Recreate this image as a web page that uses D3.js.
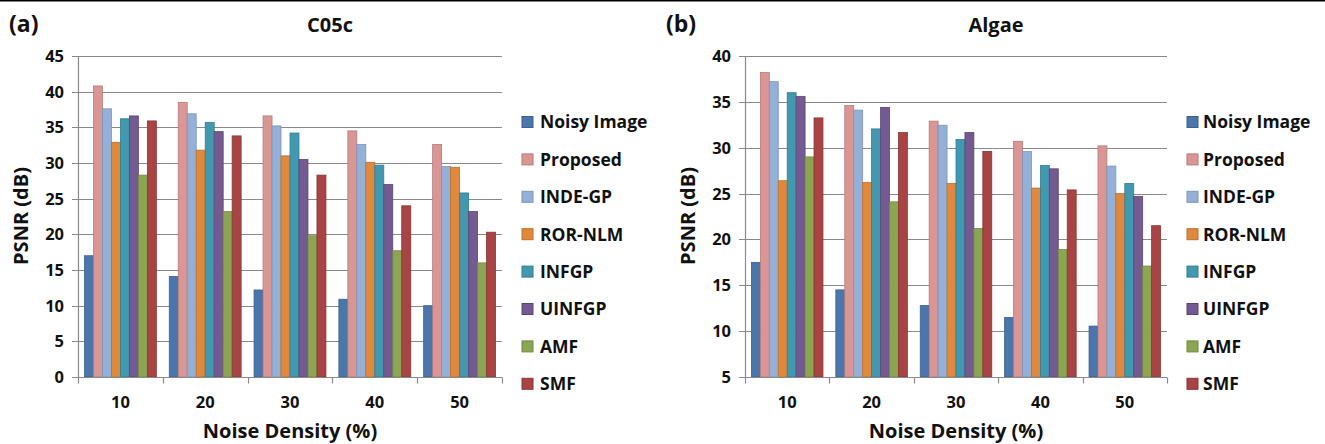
<!DOCTYPE html>
<html>
<head>
<meta charset="utf-8">
<script src="https://cdn.jsdelivr.net/npm/d3@7"></script>
<style>
  body { margin: 0; background: #fff; }
  text { font-family: "Open Sans", "Noto Sans", sans-serif; font-weight: 700; fill: #111; }
</style>
</head>
<body>
<div id="chart"></div>
<script>
let w = 1325,
    h = 444;

// noise density categories and method names
let densities = ["10", "20", "30", "40", "50"];
let methods = ["Noisy Image", "Proposed", "INDE-GP", "ROR-NLM", "INFGP", "UINFGP", "AMF", "SMF"];
let colors = ["#4A76AC", "#D99694", "#95B0D6", "#E0883C", "#4298AF", "#735A91", "#8CA552", "#A84444"];
let borders = ["#3A6190", "#B87A78", "#7B96BB", "#C06F2A", "#317E93", "#5C4676", "#728A3E", "#8C3535"];

// PSNR values, one row per method, columns follow densities
let c05c = [
  [17.0, 14.1, 12.2, 10.9, 10.0],
  [40.8, 38.5, 36.6, 34.5, 32.6],
  [37.6, 36.9, 35.2, 32.6, 29.5],
  [32.9, 31.8, 31.0, 30.1, 29.4],
  [36.2, 35.7, 34.2, 29.7, 25.8],
  [36.6, 34.4, 30.5, 27.0, 23.2],
  [28.3, 23.2, 19.8, 17.7, 16.0],
  [35.9, 33.8, 28.3, 24.0, 20.3]
];
let algae = [
  [17.5, 14.5, 12.8, 11.5, 10.55],
  [38.2, 34.6, 32.9, 30.7, 30.2],
  [37.2, 34.1, 32.45, 29.6, 28.0],
  [26.4, 26.2, 26.1, 25.6, 25.0],
  [36.0, 32.05, 30.9, 28.05, 26.1],
  [35.6, 34.4, 31.65, 27.7, 24.7],
  [29.0, 24.1, 21.2, 18.9, 17.1],
  [33.25, 31.65, 29.6, 25.4, 21.5]
];

let c05cTicks = [0, 5, 10, 15, 20, 25, 30, 35, 40, 45];
let algaeTicks = [5, 10, 15, 20, 25, 30, 35, 40];

let svg = d3.select("#chart")
            .append("svg")
            .attr("width", w)
            .attr("height", h);

// thin rule across the top of the figure
svg.append("line")
   .attr("x1", 0).attr("x2", w)
   .attr("y1", 0.75).attr("y2", 0.75)
   .attr("stroke", "#000")
   .attr("stroke-width", 1.5);

function drawPanel(opt) {
  let g = svg.append("g");

  let x0 = d3.scaleBand()
             .domain(densities)
             .range([opt.left, opt.right]);

  let x1 = d3.scaleBand()
             .domain(methods)
             .range([0, x0.bandwidth()])
             .paddingOuter(0.72);

  let y = d3.scaleLinear()
            .domain(opt.domain)
            .range([377, 56]);

  // gridlines
  g.selectAll(".grid")
   .data(opt.ticks)
   .enter()
   .append("line")
   .attr("x1", opt.left - 6)
   .attr("x2", opt.right)
   .attr("y1", d => Math.round(y(d)) + 0.5)
   .attr("y2", d => Math.round(y(d)) + 0.5)
   .attr("stroke", "#8a8a8a")
   .attr("stroke-width", 1.2);

  // y axis line
  g.append("line")
   .attr("x1", opt.left + 0.5).attr("x2", opt.left + 0.5)
   .attr("y1", y(opt.domain[1])).attr("y2", y(opt.domain[0]))
   .attr("stroke", "#8a8a8a")
   .attr("stroke-width", 1.2);

  // y tick labels
  g.selectAll(".ylab")
   .data(opt.ticks)
   .enter()
   .append("text")
   .attr("x", opt.left - 14)
   .attr("y", d => y(d))
   .attr("dy", "0.36em")
   .attr("text-anchor", "end")
   .style("font-size", "16.5px")
   .text(d => d);

  // bars
  methods.forEach((m, i) => {
    g.selectAll(".bar" + i)
     .data(densities)
     .enter()
     .append("rect")
     .attr("x", d => x0(d) + x1(m))
     .attr("y", (d, j) => y(opt.values[i][j]))
     .attr("width", x1.bandwidth())
     .attr("height", (d, j) => y(opt.domain[0]) - y(opt.values[i][j]))
     .attr("fill", colors[i])
     .attr("stroke", borders[i])
     .attr("stroke-width", 0.8);
  });

  // x axis line and category separators
  let base = Math.round(y(opt.domain[0])) + 0.5;
  g.append("line")
   .attr("x1", opt.left).attr("x2", opt.right)
   .attr("y1", base).attr("y2", base)
   .attr("stroke", "#8a8a8a")
   .attr("stroke-width", 1.2);

  let seps = densities.map(d => x0(d)).concat([opt.right]);
  g.selectAll(".xtick")
   .data(seps)
   .enter()
   .append("line")
   .attr("x1", d => Math.round(d) + 0.5)
   .attr("x2", d => Math.round(d) + 0.5)
   .attr("y1", base)
   .attr("y2", base + 6)
   .attr("stroke", "#8a8a8a")
   .attr("stroke-width", 1.2);

  g.selectAll(".xlab")
   .data(densities)
   .enter()
   .append("text")
   .attr("x", d => x0(d) + x0.bandwidth() / 2)
   .attr("y", 408)
   .attr("text-anchor", "middle")
   .style("font-size", "16.5px")
   .text(d => d);

  // axis titles
  g.append("text")
   .attr("x", (opt.left + opt.right) / 2)
   .attr("y", 438)
   .attr("text-anchor", "middle")
   .style("font-size", "20px")
   .text("Noise Density (%)");

  g.append("text")
   .attr("transform", "translate(" + (opt.left - 50) + ",216) rotate(-90)")
   .attr("text-anchor", "middle")
   .style("font-size", "20px")
   .text("PSNR (dB)");

  // panel letter and title
  g.append("text")
   .attr("x", opt.letterX)
   .attr("y", 32)
   .style("font-size", "23px")
   .text(opt.letter);

  g.append("text")
   .attr("x", opt.titleX)
   .attr("y", 32)
   .attr("text-anchor", "middle")
   .style("font-size", "20px")
   .text(opt.title);

  // legend
  let legend = g.selectAll(".legend")
                .data(methods)
                .enter()
                .append("g")
                .attr("transform", (d, i) => "translate(" + opt.legendX + "," + (122 + i * 37.4) + ")");

  legend.append("rect")
        .attr("x", 0)
        .attr("y", -5.5)
        .attr("width", 11)
        .attr("height", 11)
        .attr("fill", (d, i) => colors[i])
        .attr("stroke", (d, i) => borders[i])
        .attr("stroke-width", 1);

  legend.append("text")
        .attr("x", opt.legendGap)
        .attr("y", 0)
        .attr("dy", "0.36em")
        .style("font-size", "17.5px")
        .text(d => d);
}

drawPanel({
  left: 78, right: 502,
  domain: [0, 45], ticks: c05cTicks, values: c05c,
  letter: "(a)", letterX: 9, title: "C05c", titleX: 330,
  legendX: 522, legendGap: 18
});

drawPanel({
  left: 745, right: 1167,
  domain: [5, 40], ticks: algaeTicks, values: algae,
  letter: "(b)", letterX: 666, title: "Algae", titleX: 996,
  legendX: 1187, legendGap: 16
});
</script>
</body>
</html>
